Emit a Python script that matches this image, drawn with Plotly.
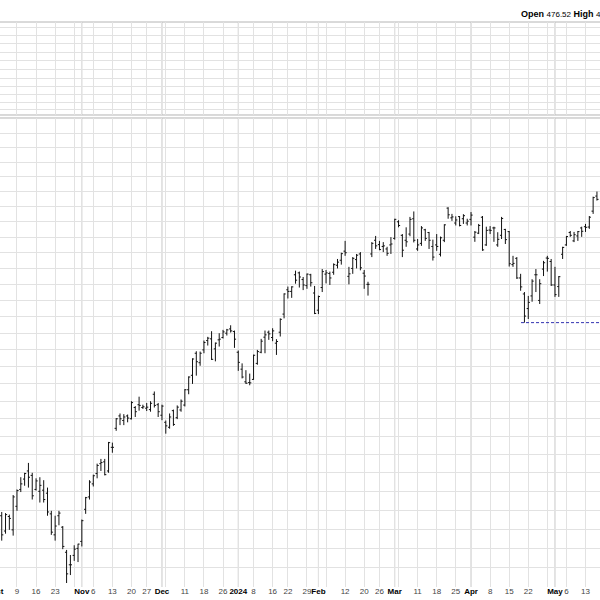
import numpy as np
import pandas as pd
import plotly.graph_objects as go

# ---------------- data ----------------
holidays = ["2023-11-23", "2023-12-25", "2024-01-01", "2024-01-15", "2024-02-19", "2024-03-29"]
dates = pd.bdate_range("2023-10-02", "2024-05-16", freq="C", holidays=holidays)

open_ = [
    # Oct 2023
    356.0, 358.5, 354.5, 358.3, 354.8, 361.0, 365.5, 368.3, 370.5, 369.3, 365.5, 365.0, 365.3, 364.5, 359.0,
    353.5, 358.5, 355.5, 349.0, 345.8, 348.2, 350.0,
    # Nov
    351.8, 360.2, 363.5, 367.0, 369.8, 372.5, 373.0, 370.5, 377.0, 382.3, 385.8, 384.5, 385.8, 385.0, 388.2,
    389.0, 388.2, 388.0, 387.6, 392.0, 389.0,
    # Dec
    386.0, 384.0, 382.6, 387.3, 385.3, 387.5, 388.9, 393.3, 397.5, 404.0, 401.2, 405.0, 407.8, 408.3, 405.3,
    408.0, 408.7, 410.0, 411.3, 410.5,
    # Jan 2024
    404.3, 399.3, 395.6, 395.4, 396.3, 401.0, 404.3, 408.8, 410.3, 408.7, 407.0, 410.3, 415.8, 423.3, 422.8,
    428.0, 428.6, 426.5, 424.6, 428.0, 422.3,
    # Feb
    417.0, 424.0, 428.2, 428.4, 428.8, 431.0, 432.6, 435.5, 427.5, 430.0, 432.8, 434.6, 428.5, 425.0, 434.6,
    439.0, 437.6, 437.0, 436.2, 437.5,
    # Mar
    439.6, 445.0, 440.6, 439.0, 441.0, 446.0, 436.2, 438.0, 442.4, 441.5, 437.0, 437.5, 434.5, 439.0, 449.5,
    446.3, 444.6, 446.7, 446.0, 444.6,
    # Apr
    445.8, 440.0, 441.3, 446.5, 437.5, 442.3, 443.0, 437.5, 440.6, 442.5, 441.8, 431.2, 433.2, 427.0, 422.0,
    417.5, 421.4, 428.0, 420.0, 429.8, 433.3, 432.2,
    # May
    424.8, 424.3, 434.5, 437.5, 441.5, 438.8, 440.4, 443.0, 443.4, 443.3, 448.5, 453.5,
]
high = [
    360.5, 359.5, 359.2, 358.8, 364.0, 365.5, 368.8, 370.0, 372.7, 370.0, 368.5, 368.8, 368.0, 366.0, 359.8,
    358.5, 359.8, 355.8, 349.6, 348.3, 350.8, 351.2,
    357.5, 363.5, 368.0, 369.5, 372.5, 373.8, 373.8, 378.5, 378.3, 385.2, 386.5, 386.3, 386.2, 390.0, 388.6,
    391.3, 389.0, 389.5, 390.0, 392.8, 389.5,
    389.0, 384.5, 386.5, 387.6, 388.8, 390.5, 393.5, 397.2, 402.5, 404.6, 404.5, 407.8, 408.9, 410.6, 407.2,
    410.0, 411.0, 411.3, 412.4, 410.8,
    404.8, 401.0, 399.0, 398.0, 403.6, 405.0, 408.3, 410.8, 410.8, 411.5, 408.2, 414.5, 422.2, 424.3, 424.4,
    429.3, 429.0, 427.3, 428.4, 428.3, 424.5,
    421.5, 429.8, 429.5, 429.0, 431.6, 433.0, 435.0, 438.8, 430.5, 433.6, 434.6, 435.2, 429.5, 425.8, 438.4,
    440.4, 438.8, 438.4, 436.9, 440.0,
    446.0, 445.5, 441.0, 443.2, 446.6, 448.4, 439.4, 443.6, 442.7, 441.7, 439.2, 441.0, 440.2, 444.2, 449.8,
    447.6, 446.8, 446.9, 447.5, 446.0,
    448.2, 442.0, 444.3, 446.9, 443.4, 443.6, 443.4, 441.6, 446.6, 442.7, 442.0, 434.0, 433.6, 428.3, 422.6,
    421.4, 426.6, 429.8, 426.6, 432.4, 434.0, 433.0,
    430.5, 427.6, 436.9, 440.4, 442.0, 441.7, 442.0, 443.4, 444.3, 446.9, 453.3, 455.0,
]
low = [
    354.5, 352.0, 353.8, 354.8, 353.3, 359.8, 364.8, 366.5, 366.0, 362.8, 365.2, 362.0, 362.0, 358.5, 353.5,
    352.0, 356.0, 349.8, 341.2, 343.2, 346.8, 346.5,
    350.5, 359.0, 362.8, 366.3, 368.5, 370.5, 369.3, 370.0, 375.5, 381.6, 383.2, 383.2, 384.0, 384.8, 385.5,
    387.3, 387.8, 387.2, 387.0, 388.2, 385.5,
    384.6, 380.8, 382.2, 383.0, 384.9, 387.0, 388.5, 392.0, 395.0, 397.4, 400.3, 404.0, 406.3, 402.0, 401.6,
    406.0, 408.4, 409.3, 410.2, 405.6,
    398.8, 396.6, 395.0, 394.6, 396.2, 400.6, 404.0, 404.0, 408.0, 407.6, 403.5, 409.0, 414.5, 420.6, 420.8,
    425.2, 424.0, 423.2, 423.6, 424.3, 415.8,
    415.8, 422.6, 425.3, 424.8, 428.0, 430.0, 431.2, 434.0, 425.0, 428.3, 430.0, 429.4, 423.6, 421.5, 433.6,
    436.2, 435.8, 435.2, 434.0, 434.6,
    439.2, 443.2, 433.6, 436.9, 440.3, 438.3, 435.6, 437.2, 438.8, 436.2, 432.5, 435.6, 433.8, 438.4, 446.0,
    445.3, 443.8, 443.5, 444.3, 443.8,
    443.8, 438.5, 441.0, 435.6, 437.2, 441.0, 438.5, 436.9, 439.4, 437.8, 430.6, 430.5, 426.7, 423.0, 413.2,
    414.3, 419.6, 422.6, 418.9, 427.6, 429.0, 424.5,
    421.1, 421.1, 433.0, 437.2, 440.1, 438.4, 438.8, 440.1, 441.7, 442.7, 447.6, 452.0,
]
close = [
    360.0, 353.5, 358.8, 357.8, 363.5, 365.2, 367.0, 369.8, 368.8, 363.8, 367.8, 366.6, 362.8, 359.5, 354.2,
    355.8, 359.2, 350.5, 343.5, 345.8, 349.8, 351.1,
    357.2, 363.3, 367.5, 369.2, 372.0, 372.8, 369.5, 378.3, 377.0, 385.0, 385.0, 385.5, 385.2, 389.6, 387.0,
    388.8, 388.4, 388.3, 389.4, 388.8, 387.0,
    388.6, 383.0, 385.5, 383.4, 388.3, 390.0, 393.3, 397.0, 402.3, 401.5, 404.0, 407.2, 408.5, 402.2, 407.0,
    408.2, 410.4, 411.0, 410.7, 408.2,
    401.3, 397.0, 395.2, 395.3, 403.4, 404.5, 407.6, 409.5, 409.8, 410.7, 407.5, 414.2, 422.0, 422.8, 424.2,
    426.3, 427.3, 424.8, 428.2, 425.5, 416.0,
    421.2, 429.0, 428.6, 427.0, 431.2, 432.0, 434.7, 435.0, 428.3, 433.2, 434.2, 430.2, 427.6, 425.0, 438.0,
    437.2, 436.0, 437.2, 434.8, 437.8,
    445.8, 443.8, 435.8, 438.5, 445.8, 439.0, 437.5, 443.0, 439.6, 439.0, 433.6, 437.0, 439.8, 444.0, 447.3,
    446.6, 445.6, 443.8, 447.0, 445.2,
    447.2, 441.6, 443.8, 435.9, 442.2, 442.2, 443.0, 439.3, 446.1, 439.2, 431.5, 431.6, 427.0, 424.2, 415.2,
    419.4, 426.0, 428.0, 425.2, 431.8, 433.2, 424.8,
    421.8, 427.4, 436.7, 440.2, 440.6, 440.8, 441.8, 441.9, 443.2, 446.5, 453.0, 452.4,
]

week_dates = ["2023-10-09", "2023-10-16", "2023-10-23", "2023-10-30", "2023-11-06", "2023-11-13",
              "2023-11-20", "2023-11-27", "2023-12-04", "2023-12-11", "2023-12-18", "2023-12-26",
              "2024-01-08", "2024-01-16", "2024-01-22", "2024-01-29", "2024-02-05", "2024-02-12",
              "2024-02-20", "2024-02-26", "2024-03-04", "2024-03-11", "2024-03-18", "2024-03-25",
              "2024-04-08", "2024-04-15", "2024-04-22", "2024-04-29", "2024-05-06", "2024-05-13"]
week_labels = ["9", "16", "23", "", "6", "13", "20", "27", "", "11", "18", "26", "8", "16", "22", "29", "",
               "12", "20", "26", "", "11", "18", "25", "8", "15", "22", "", "6", "13"]
month_dates = ["2023-10-02", "2023-11-01", "2023-12-01", "2024-01-02", "2024-02-01", "2024-03-01",
               "2024-04-01", "2024-05-01"]
month_labels = ["Oct", "Nov", "Dec", "2024", "Feb", "Mar", "Apr", "May"]
price_grid = list(range(345, 481, 5))
support_date = "2024-04-19"
header_text = ("<b>Open</b> <span style='font-size:8px'>476.52</span> "
               "<b>High</b> <span style='font-size:8px'>4</span>")

# ---------------- build ----------------
assert len(dates) == len(open_) == len(high) == len(low) == len(close)
pos = {d.strftime("%Y-%m-%d"): i for i, d in enumerate(dates)}
x = np.arange(len(dates))

x_range = [0.55, 157.8]
font = "Liberation Sans, Arial, sans-serif"

tick_pairs = sorted(
    [(pos[d], t) for d, t in zip(week_dates, week_labels)] +
    [(pos[d], "<b><span style='color:#000'>%s</span></b>" % t) for d, t in zip(month_dates, month_labels)]
)
tickvals = [p for p, _ in tick_pairs]
ticktext = [t for _, t in tick_pairs]

fig = go.Figure()
fig.add_trace(go.Ohlc(
    x=x, open=open_, high=high, low=low, close=close,
    increasing=dict(line=dict(color="#111111", width=1)),
    decreasing=dict(line=dict(color="#111111", width=1)),
    tickwidth=0.42, xaxis="x", yaxis="y", hoverinfo="skip", showlegend=False,
))

i_sup = pos[support_date]
fig.add_trace(go.Scatter(
    x=[i_sup - 0.9, x_range[1] + 2], y=[low[i_sup], low[i_sup]],
    mode="lines", line=dict(color="#3030b0", width=1, dash="3px,2px"),
    xaxis="x", yaxis="y", hoverinfo="skip", showlegend=False, cliponaxis=True,
))
# empty upper panel
fig.add_trace(go.Scatter(x=[x[0]], y=[None], xaxis="x3", yaxis="y2", mode="lines",
                         hoverinfo="skip", showlegend=False))

grid = "#e2e2e2"
fig.update_layout(
    width=600, height=600,
    margin=dict(l=0, r=0, t=0, b=13),
    paper_bgcolor="white", plot_bgcolor="white",
    font=dict(family=font, size=8, color="#444"),
    showlegend=False,
    xaxis=dict(domain=[0, 1], anchor="y", range=x_range, tickmode="array", tickvals=tickvals,
               ticktext=ticktext, tickfont=dict(size=8, color="#444"), tickangle=0,
               showgrid=True, gridcolor=grid, gridwidth=1, zeroline=False, showline=False, ticks="",
               rangeslider=dict(visible=False), ticklabelstandoff=-2, fixedrange=True),
    yaxis=dict(domain=[0, 0.799], type="log", range=[np.log10(340.2), np.log10(480.3)],
               tickmode="array", tickvals=price_grid, showticklabels=False, showgrid=True,
               gridcolor=grid, zeroline=False, showline=False, ticks=""),
    xaxis3=dict(domain=[0, 1], anchor="y2", range=x_range, tickmode="array", tickvals=tickvals,
                showticklabels=False, showgrid=True, gridcolor=grid, zeroline=False, ticks=""),
    yaxis2=dict(domain=[0.8041, 0.9625], anchor="x3", range=[0, 93], tickmode="array",
                tickvals=[5, 12, 21, 29, 37, 46, 55, 63, 72, 80, 88], showticklabels=False,
                showgrid=True, gridcolor=grid, zeroline=False, ticks=""),
)

# darker month separators in both panels
for d in month_dates:
    p = pos[d]
    if x_range[0] <= p <= x_range[1]:
        fig.add_shape(type="line", xref="x", yref="y domain", x0=p, x1=p, y0=0, y1=1,
                      line=dict(color="#c8c8c8", width=1), layer="below")
        fig.add_shape(type="line", xref="x3", yref="y2 domain", x0=p, x1=p, y0=0, y1=1,
                      line=dict(color="#c8c8c8", width=1), layer="below")

# panel borders
for yref, yv in [("y2 domain", 0), ("y2 domain", 1), ("y domain", 1)]:
    fig.add_shape(type="line", xref="paper", yref=yref, x0=0, x1=1, y0=yv, y1=yv,
                  line=dict(color="#b4b4b4", width=1), layer="below")

# partially visible first month label and header text
fig.add_annotation(xref="paper", yref="paper", x=0, y=-0.0085, xanchor="right", yanchor="middle",
                   xshift=6, text="<b>%s</b>" % month_labels[0], showarrow=False,
                   font=dict(family=font, size=8, color="#000"))
fig.add_annotation(xref="paper", yref="paper", x=0.865, y=0.976, xanchor="left", yanchor="middle",
                   text=header_text, showarrow=False, font=dict(family=font, size=9, color="#000"))

fig.write_html("out.html", config={"displayModeBar": False},
               post_script="document.body.style.margin='0px';document.body.style.overflow='hidden';")
